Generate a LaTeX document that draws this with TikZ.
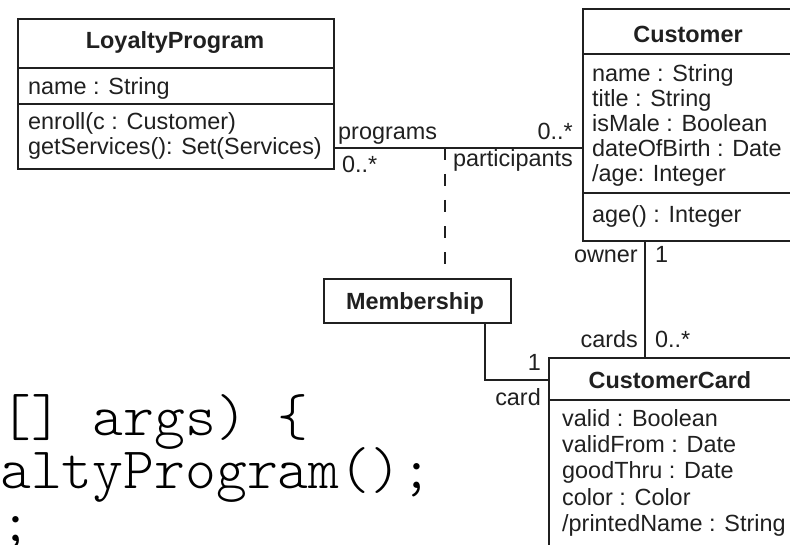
\documentclass[tikz,border=0pt]{standalone}
\usepackage{fontspec}
\setmainfont{Liberation Sans}
\newfontfamily\codefont{lmmonolt10-regular.otf}
\definecolor{ink}{RGB}{32,32,32}
\newcommand{\umlfont}{\fontsize{23.5}{25}\selectfont}
\newcommand{\srcfont}{\codefont\fontsize{59}{53}\selectfont}
\begin{document}
\begin{tikzpicture}[x=1bp,y=-1bp,
  compartment/.style={draw=ink, line width=2.4bp, inner sep=0pt, anchor=north west},
  conn/.style={draw=ink, line width=2bp},
  depline/.style={conn, dash pattern=on 12bp off 14bp},
  txt/.style={inner sep=0pt, anchor=base west, font=\umlfont, text=ink},
  rtxt/.style={txt, anchor=base east},
  title/.style={inner sep=0pt, anchor=base, font=\umlfont\bfseries, text=ink},
  src/.style={inner sep=0pt, anchor=base west, font=\srcfont, text=black}]
\useasboundingbox (0,0) rectangle (790,545);
\fill[white] (0,0) rectangle (790,545);
\clip (0,0) rectangle (790,545);

% ---- LoyaltyProgram ----
\node[compartment, minimum width=316bp, minimum height=49bp] (lph) at (17,18) {};
\node[compartment, minimum width=316bp, minimum height=36bp] (lpa) at (17,67) {};
\node[compartment, minimum width=316bp, minimum height=65bp] (lpo) at (17,103) {};
\node[title] (lpt) at (175,49) {LoyaltyProgram};
\node[txt] (lpa1) at (28,95) {name : String};
\node[txt] (lpo1) at (28,130) {enroll(c : Customer)};
\node[txt] (lpo2) at (28,155) {getServices(): Set(Services)};

% ---- Customer ----
\node[compartment, minimum width=220bp, minimum height=45bp] (ch) at (582,8) {};
\node[compartment, minimum width=220bp, minimum height=139bp] (ca) at (582,53) {};
\node[compartment, minimum width=220bp, minimum height=48bp] (co) at (582,192) {};
\node[title] (ct) at (688,43) {Customer};
\node[txt] (ca1) at (592,82) {name : String};
\node[txt] (ca2) at (592,107) {title : String};
\node[txt] (ca3) at (592,132) {isMale : Boolean};
\node[txt] (ca4) at (592,157) {dateOfBirth : Date};
\node[txt] (ca5) at (592,182) {/age: Integer};
\node[txt] (co1) at (592,223) {age() : Integer};

% ---- CustomerCard ----
\node[compartment, minimum width=254bp, minimum height=42bp] (cch) at (548,357) {};
\node[compartment, minimum width=254bp, minimum height=200bp] (cca) at (548,399) {};
\node[title] (cct) at (670,388) {CustomerCard};
\node[txt] (cca1) at (562,426) {valid : Boolean};
\node[txt] (cca2) at (562,452) {validFrom : Date};
\node[txt] (cca3) at (562,478) {goodThru : Date};
\node[txt] (cca4) at (562,505) {color : Color};
\node[txt] (cca5) at (562,531) {/printedName : String};

% ---- Membership (association class) ----
\node[compartment, minimum width=187bp, minimum height=44bp] (mem) at (323,278) {};
\node[title] (memt) at (415,310) {Membership};

% ---- connectors ----
\coordinate (assoc) at (445,148);
\draw[conn] (lpo.east |- assoc) -- (ca.west |- assoc);
\draw[depline] (assoc) -- (assoc |- mem.north);

\coordinate (ownx) at (645,300);
\draw[conn] (co.south -| ownx) -- (cch.north -| ownx);

\coordinate (bend) at (485,380);
\draw[conn] (mem.south -| bend) -- (bend) -- (cch.west |- bend);

% ---- association end labels ----
\node[txt] (l1) at (338,140) {programs};
\node[txt] (l2) at (342,173) {0..*};
\node[rtxt] (l3) at (573,140) {0..*};
\node[rtxt] (l4) at (573,167) {participants};
\node[rtxt] (l5) at (638,263) {owner};
\node[txt] (l6) at (655,263) {1};
\node[rtxt] (l7) at (638,347) {cards};
\node[txt] (l8) at (655,347) {0..*};
\node[rtxt] (l9) at (541,370) {1};
\node[rtxt] (l10) at (541,405) {card};

% ---- source code fragment ----
\node[src] (s1) at (0,435) {[] args) \{};
\node[src] (s2) at (0,488) {altyProgram();};
\node[src] (s3) at (0,541) {;};
\end{tikzpicture}
\end{document}
